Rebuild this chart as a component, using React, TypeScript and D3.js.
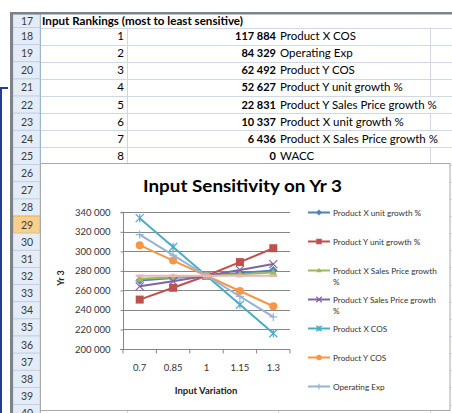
import React, { useRef, useEffect } from "react";
import * as d3 from "d3";

// chart data
const categories = ["0.7", "0.85", "1", "1.15", "1.3"];
const productXUnitGrowth = [270200, 272600, 275000, 277800, 280500];
const productYUnitGrowth = [250600, 262700, 275000, 289000, 303200];
const productXPriceGrowth = [271900, 273400, 275000, 276600, 278300];
const productYPriceGrowth = [264200, 269500, 275000, 281000, 287000];
const productXCos = [334000, 304500, 275000, 245500, 216100];
const productYCos = [306300, 290600, 275000, 259400, 243800];
const operatingExp = [317200, 296100, 275000, 253900, 232900];
const wacc = [275000, 275000, 275000, 275000, 275000];

const seriesNames = [
  "Product X unit growth %",
  "Product Y unit growth %",
  "Product X Sales Price growth %",
  "Product Y Sales Price growth %",
  "Product X COS",
  "Product Y COS",
  "Operating Exp",
  "WACC",
];
const legendLabels = [
  ["Product X unit growth %"],
  ["Product Y unit growth %"],
  ["Product X Sales Price growth", "%"],
  ["Product Y Sales Price growth", "%"],
  ["Product X COS"],
  ["Product Y COS"],
  ["Operating Exp"],
];
const yTicks = [200000, 220000, 240000, 260000, 280000, 300000, 320000, 340000];

// spreadsheet table
const rowNumbers = [17, 18, 19, 20, 21, 22, 23, 24, 25, 26, 27, 28, 29, 30, 31, 32, 33, 34, 35, 36, 37, 38, 39, 40];
const rankOrder = [1, 2, 3, 4, 5, 6, 7, 8];
const rankValues = [117884, 84329, 62492, 52627, 22831, 10337, 6436, 0];
const rankLabels = [
  "Product X COS",
  "Operating Exp",
  "Product Y COS",
  "Product Y unit growth %",
  "Product Y Sales Price growth %",
  "Product X unit growth %",
  "Product X Sales Price growth %",
  "WACC",
];

const colors = ["#4f81bd", "#c0504d", "#9bbb59", "#8064a2", "#4bacc6", "#f79646", "#95b3d7", "#e6b9b8"];
const markers = ["diamond", "square", "triangle", "x", "star", "circle", "plus", "dash"];

const FONT = "Lato, 'Liberation Sans', sans-serif";

const App: React.FC = () => {
  const svgRef = useRef<SVGSVGElement>(null);

  useEffect(() => {
    const svg = d3.select(svgRef.current);
    svg.selectAll("*").remove();
    const W = 452;
    const H = 413;
    const rowH = 17.14;
    const rowTop = (r: number) => (r === 17 ? 14 : 27.5 + (r - 18) * rowH);
    const rowBottom = (r: number) => 27.5 + (r - 17) * rowH;

    svg.append("rect").attr("width", W).attr("height", H).attr("fill", "#fff");

    // cell gridlines
    const grid = svg.append("g").attr("stroke", "#d0d7e5").attr("stroke-width", 1);
    rowNumbers.forEach((r) => {
      grid.append("line").attr("x1", 40).attr("x2", W)
        .attr("y1", Math.round(rowBottom(r)) + 0.5).attr("y2", Math.round(rowBottom(r)) + 0.5);
    });
    rankLabels.forEach((lab, i) => {
      const r = 18 + i;
      grid.append("line").attr("x1", 127.5).attr("x2", 127.5).attr("y1", rowTop(r)).attr("y2", rowBottom(r));
      if (lab.length < 25) {
        grid.append("line").attr("x1", 430.5).attr("x2", 430.5).attr("y1", rowTop(r)).attr("y2", rowBottom(r));
      }
    });
    [127.5, 278.5, 430.5].forEach((x) => {
      grid.append("line").attr("x1", x).attr("x2", x).attr("y1", 405).attr("y2", H);
    });

    // row headers
    const hdr = svg.append("g");
    rowNumbers.forEach((r) => {
      const y0 = rowTop(r);
      const y1 = rowBottom(r);
      const sel = r === 29;
      hdr.append("rect").attr("x", 13).attr("y", y0).attr("width", 27).attr("height", y1 - y0)
        .attr("fill", sel ? "#f9d08b" : "#e4ecf7")
        .attr("stroke", sel ? "#f2a43a" : "#bccde3").attr("stroke-width", 0.8);
      hdr.append("text").attr("x", 27).attr("y", (y0 + y1) / 2 + 4)
        .attr("text-anchor", "middle").attr("font-family", FONT).attr("font-size", 10.5)
        .attr("fill", "#3a3a3a").text(r);
    });
    hdr.append("line").attr("x1", 40.5).attr("x2", 40.5).attr("y1", 14).attr("y2", H)
      .attr("stroke", "#9eb6ce");

    // window frame
    svg.append("rect").attr("x", 10).attr("y", 12).attr("width", W - 10).attr("height", 2.5).attr("fill", "#7d828a");
    svg.append("rect").attr("x", 10).attr("y", 12).attr("width", 3).attr("height", H - 12).attr("fill", "#7d828a");
    svg.append("path").attr("d", "M8,88 H1 V413").attr("fill", "none").attr("stroke", "#1f3f99").attr("stroke-width", 2);

    // table text
    const tbl = svg.append("g").attr("font-family", FONT).attr("font-size", 11.5).attr("fill", "#000");
    tbl.append("text").attr("x", 42).attr("y", 24.5).attr("font-weight", "bold").attr("font-size", 11)
      .attr("textLength", 201).attr("lengthAdjust", "spacingAndGlyphs")
      .text("Input Rankings (most to least sensitive)");
    const fmt = d3.formatLocale({ decimal: ".", thousands: " ", grouping: [3], currency: ["", ""] }).format(",");
    rankOrder.forEach((n, i) => {
      const r = 18 + i;
      const yb = (rowTop(r) + rowBottom(r)) / 2 + 4;
      tbl.append("text").attr("x", 124).attr("y", yb).attr("text-anchor", "end").text(n);
      tbl.append("text").attr("x", 276).attr("y", yb).attr("text-anchor", "end").attr("font-weight", "bold")
        .attr("font-size", 11).text(fmt(rankValues[i]));
      tbl.append("text").attr("x", 280).attr("y", yb).text(rankLabels[i]);
    });

    // chart area
    svg.append("rect").attr("x", 40.5).attr("y", 163.5).attr("width", 409.5).attr("height", 247)
      .attr("fill", "#fff").attr("stroke", "#a9a9a9");

    const x = d3.scaleBand().domain(categories).range([123, 290]);
    const y = d3.scaleLinear().domain([200000, 340000]).range([349, 212.3]);
    const cx = (c: string) => x(c)! + x.bandwidth() / 2;

    const chart = svg.append("g").attr("font-family", FONT);
    chart.append("text").attr("x", 242.5).attr("y", 192).attr("text-anchor", "middle")
      .attr("font-weight", "bold").attr("font-size", 17)
      .attr("textLength", 199).attr("lengthAdjust", "spacingAndGlyphs")
      .text("Input Sensitivity on Yr 3");

    // gridlines
    yTicks.slice(1).forEach((t) => {
      chart.append("line").attr("x1", 123).attr("x2", 290)
        .attr("y1", Math.round(y(t)) + 0.5).attr("y2", Math.round(y(t)) + 0.5)
        .attr("stroke", "#868686");
    });

    const yAxis = chart.append("g").attr("transform", "translate(123.5,0)")
      .call(d3.axisLeft(y).tickValues(yTicks).tickSize(3).tickPadding(10).tickFormat((d) => fmt(d as number)));
    yAxis.select(".domain").attr("stroke", "#868686").attr("d", `M-3,${y(340000)}H0V${y(200000)}`);
    yAxis.selectAll("line").attr("stroke", "#868686");
    yAxis.selectAll("text").attr("font-family", FONT).attr("font-size", 9.5).attr("fill", "#333");

    const xAxisG = chart.append("g").attr("transform", `translate(0,${Math.round(y(200000)) + 0.5})`);
    xAxisG.append("line").attr("x1", 120).attr("x2", 290).attr("stroke", "#868686");
    const bounds = categories.map((c) => x(c)!).concat([x(categories[categories.length - 1])! + x.bandwidth()]);
    bounds.forEach((b) => {
      xAxisG.append("line").attr("x1", b).attr("x2", b).attr("y1", 0).attr("y2", 4).attr("stroke", "#868686");
    });
    categories.forEach((c) => {
      xAxisG.append("text").attr("x", cx(c)).attr("y", 21.5).attr("text-anchor", "middle")
        .attr("font-size", 9.5).attr("fill", "#333").text(c);
    });

    chart.append("text").attr("x", 206).attr("y", 393.5).attr("text-anchor", "middle")
      .attr("font-weight", "bold").attr("font-size", 9.5).attr("fill", "#222").text("Input Variation");
    chart.append("text").attr("transform", "translate(64,278) rotate(-90)").attr("text-anchor", "middle")
      .attr("font-weight", "bold").attr("font-size", 9).attr("fill", "#222").text("Yr 3");

    const drawMarker = (g: any, type: string, px: number, py: number, color: string, s: number) => {
      if (type === "diamond") {
        g.append("path").attr("d", `M${px},${py - s * 0.55}L${px + s * 0.55},${py}L${px},${py + s * 0.55}L${px - s * 0.55},${py}Z`).attr("fill", color);
      } else if (type === "square") {
        g.append("rect").attr("x", px - s / 2).attr("y", py - s / 2).attr("width", s).attr("height", s).attr("fill", color);
      } else if (type === "triangle") {
        g.append("path").attr("d", `M${px},${py - s / 2}L${px + s / 2},${py + s / 2 - 1}L${px - s / 2},${py + s / 2 - 1}Z`).attr("fill", color);
      } else if (type === "circle") {
        g.append("circle").attr("cx", px).attr("cy", py).attr("r", s / 2).attr("fill", color);
      } else if (type === "x") {
        const h = s / 2;
        g.append("path").attr("d", `M${px - h},${py - h}L${px + h},${py + h}M${px - h},${py + h}L${px + h},${py - h}`)
          .attr("stroke", color).attr("stroke-width", 1.2);
      } else if (type === "star") {
        const h = s / 2;
        g.append("path").attr("d", `M${px - h},${py - h}L${px + h},${py + h}M${px - h},${py + h}L${px + h},${py - h}M${px},${py - h}V${py + h}`)
          .attr("stroke", color).attr("stroke-width", 1.2);
      } else if (type === "plus") {
        const h = s / 2;
        g.append("path").attr("d", `M${px - h},${py}H${px + h}M${px},${py - h}V${py + h}`)
          .attr("stroke", color).attr("stroke-width", 1.2);
      } else if (type === "dash") {
        g.append("path").attr("d", `M${px - s / 2},${py}H${px + s / 2}`).attr("stroke", color).attr("stroke-width", 2.5);
      }
    };

    const allSeries = [productXUnitGrowth, productYUnitGrowth, productXPriceGrowth, productYPriceGrowth, productXCos, productYCos, operatingExp, wacc];
    const line = d3.line<number>().x((_, i) => cx(categories[i])).y((d) => y(d));
    allSeries.forEach((vals, si) => {
      const g = chart.append("g").attr("class", "series").attr("data-name", seriesNames[si]);
      g.append("path").attr("d", line(vals)).attr("fill", "none").attr("stroke", colors[si]).attr("stroke-width", 2);
      vals.forEach((v, i) => drawMarker(g, markers[si], cx(categories[i]), y(v), colors[si], 8));
    });

    // legend (last entry is cut off in the original)
    const legend = chart.append("g");
    legendLabels.forEach((lines, i) => {
      const ly = 212.5 + i * 29;
      legend.append("line").attr("x1", 308).attr("x2", 330).attr("y1", ly).attr("y2", ly)
        .attr("stroke", colors[i]).attr("stroke-width", 2);
      drawMarker(legend, markers[i], 319, ly, colors[i], 5.5);
      lines.forEach((t, k) => {
        legend.append("text").attr("x", 333).attr("y", ly + 3 + k * 11.7)
          .attr("font-size", 8.2).attr("fill", "#333").text(t);
      });
    });
  }, []);

  return <svg ref={svgRef} width={452} height={413} style={{ position: "absolute", left: 0, top: 0 }}></svg>;
};

export default App;
